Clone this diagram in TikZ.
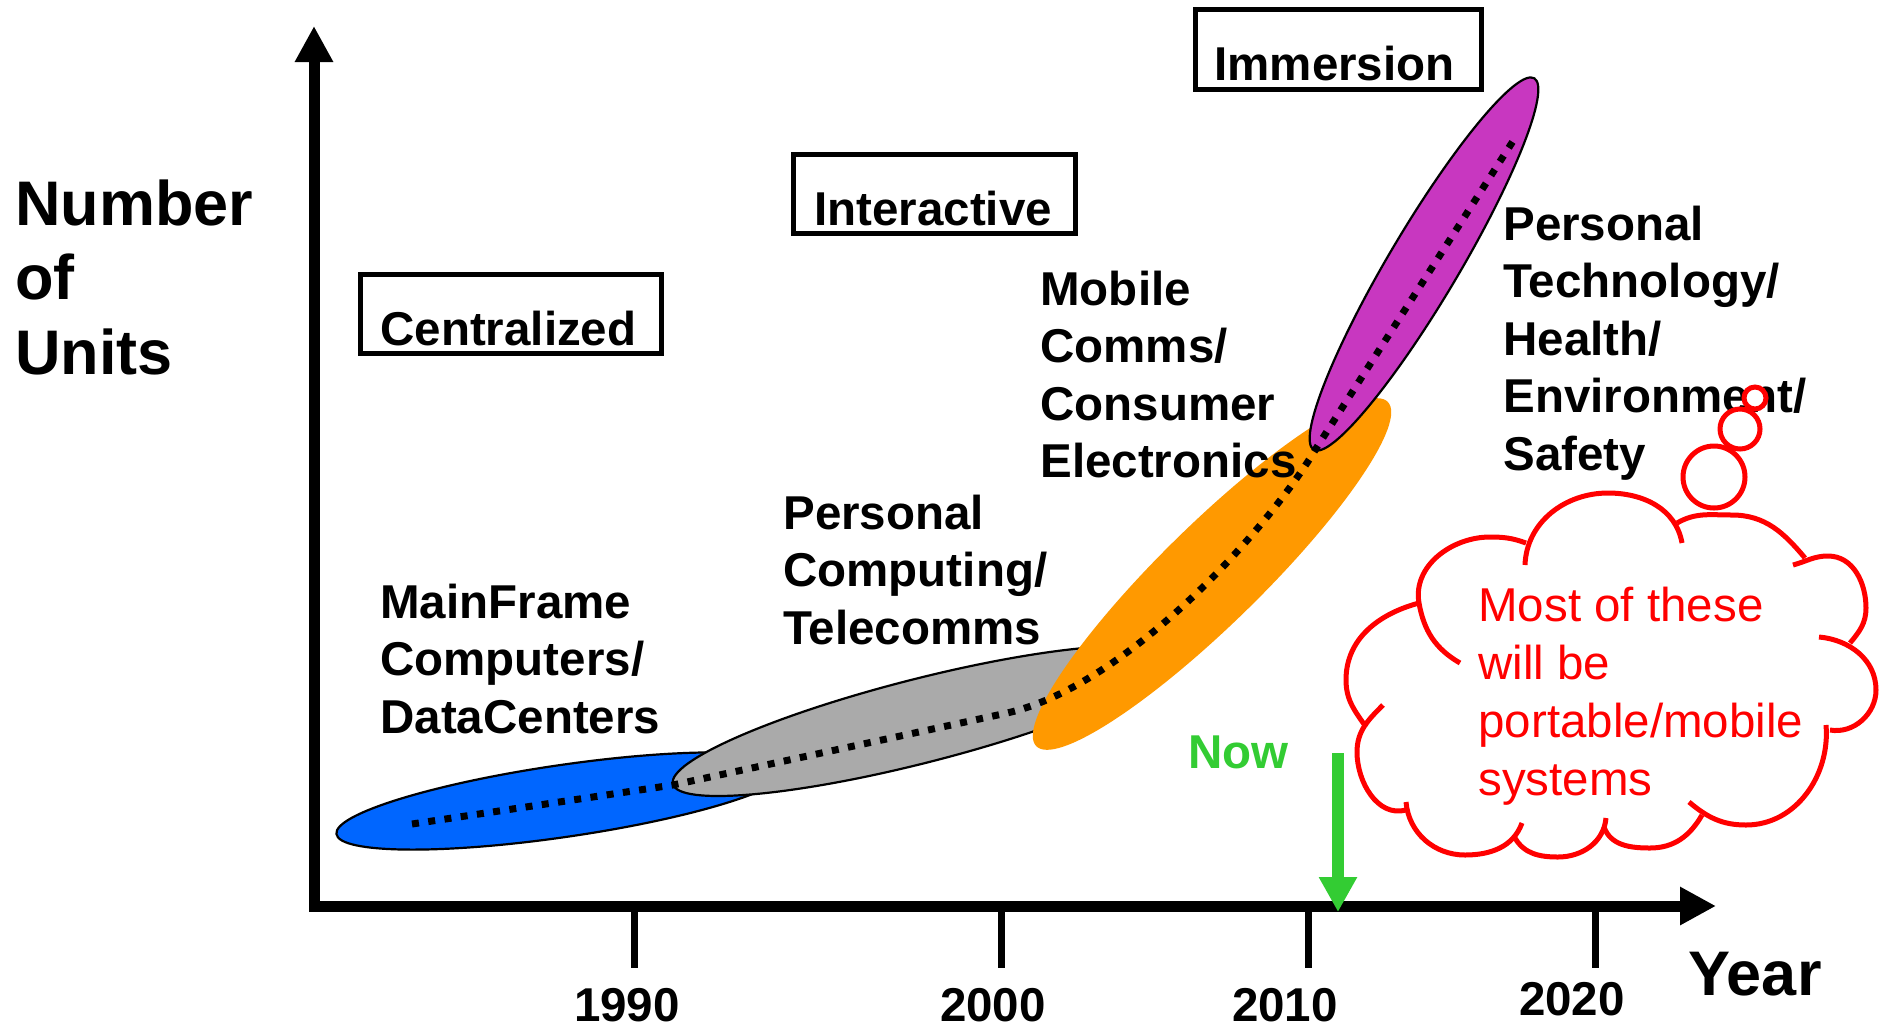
\documentclass[tikz,border=0pt]{standalone}
\usepackage{fontspec}
\setmainfont{Liberation Sans}
\usetikzlibrary{arrows.meta,shapes.geometric}
\definecolor{blueC}{HTML}{0066FF}
\definecolor{grayC}{HTML}{AAAAAA}
\definecolor{orangeC}{HTML}{FF9900}
\definecolor{purpleC}{HTML}{C837C0}
\definecolor{greenC}{HTML}{33CC33}
\definecolor{redC}{HTML}{FF0000}
\newcommand\mystack[1]{\vtop{\halign{##\hfil\cr#1\crcr}}}
\begin{document}
\begin{tikzpicture}[x=0.5pt,y=-0.5pt,
  txt/.style={inner sep=0pt, anchor=base west, font=\fontsize{23.75}{28.75}\selectfont\bfseries},
  bigtxt/.style={inner sep=0pt, anchor=base west, font=\fontsize{31.5}{37.25}\selectfont\bfseries},
  yr/.style={inner sep=0pt, anchor=base, font=\fontsize{23.75}{28.75}\selectfont\bfseries},
  tagbox/.style={draw, line width=2.5pt, inner sep=0pt, outer sep=0pt, anchor=north west},
  blob/.style={ellipse, inner sep=0pt, outer sep=0pt},
  blobline/.style={draw=black, line width=1.1pt},
  axisline/.style={line width=5.5pt, -{Triangle[length=18pt,width=18pt]}},
  tickline/.style={line width=3.5pt},
  trend/.style={line width=3.5pt, dash pattern=on 3.5pt off 4.7pt},
  cloudline/.style={draw=redC, line width=2.5pt},
  bubble/.style={circle, draw=redC, line width=2.5pt, fill=white, inner sep=0pt},
]
\useasboundingbox (0,0) rectangle (1881,1030);

% ---- ellipses
\node[blob, blobline, fill=blueC, minimum width=229pt, minimum height=36pt, rotate=8.3] (eblue) at (563,801) {};
\node[blob, blobline, fill=grayC, minimum width=255pt, minimum height=42pt, rotate=14.3] (egray) at (920,721) {};
\node[blob, fill=orangeC, minimum width=246pt, minimum height=50pt, rotate=44.4] (eorange) at (1212,574) {};
\node[blob, blobline, fill=purpleC, minimum width=216pt, minimum height=35pt, rotate=59.3] (epurple) at (1424,264) {};

% ---- trend line
\coordinate (t0) at (412,824);
\coordinate (t1) at (673,785);
\coordinate (t2) at (1007,713);
\coordinate (c1) at (1124,687);
\coordinate (c2) at (1266,533);
\coordinate (t3) at (1317,447);
\coordinate (t4) at (1515,138);
\draw[trend] (t0) -- (t1) -- (t2) .. controls (c1) and (c2) .. (t3) -- (t4);

% ---- axes
\coordinate (yb) at (314,911);
\coordinate (ytip) at (314,26);
\coordinate (xb) at (309,906);
\coordinate (xtip) at (1716,906);
\draw[axisline] (yb) -- (ytip);
\draw[axisline] (xb) -- (xtip);
\foreach \x in {634,1001,1308,1595} \draw[tickline] (\x,906) -- (\x,968);

\node[yr] (l1990) at (627,1021) {1990};
\node[yr] (l2000) at (993,1021) {2000};
\node[yr] (l2010) at (1285,1021) {2010};
\node[yr] (l2020) at (1572,1015) {2020};
\node[bigtxt] (year) at (1688,995) {Year};
\node[bigtxt] (ylabel) at (15,225) {\mystack{Number\cr of\cr Units}};

% ---- era boxes
\node[tagbox, minimum width=150.5pt, minimum height=39.5pt] (bcent) at (360.5,274.5) {};
\node[txt] (tcent) at (380,345) {Centralized};
\node[tagbox, minimum width=141pt, minimum height=39.5pt] (binter) at (793.5,154.5) {};
\node[txt] (tinter) at (814,225) {Interactive};
\node[tagbox, minimum width=143pt, minimum height=40pt] (bimm) at (1195.5,9.5) {};
\node[txt] (timm) at (1214,80) {Immersion};

% ---- labels
\node[txt] (lmain) at (380,618) {\mystack{MainFrame\cr Computers/\cr DataCenters}};
\node[txt] (lpc) at (783,529) {\mystack{Personal\cr Computing/\cr Telecomms}};
\node[txt] (lmob) at (1040,305) {\mystack{Mobile\cr Comms/\cr Consumer\cr Electronics}};
\node[txt] (lpt) at (1503,240) {\mystack{Personal\cr Technology/\cr Health/\cr Environment/\cr Safety}};

% ---- now
\node[txt, text=greenC] (now) at (1188,768) {Now};
\coordinate (nowtop) at (1338,753);
\coordinate (nowtip) at (1338,912);
\draw[line width=6pt, greenC, -{Triangle[length=17.5pt,width=18pt]}] (nowtop) -- (nowtip);

% ---- cloud
\draw[cloudline] (1460,663) to[out=150,in=-80] (1419,603) to[out=100,in=180] (1490,537) to[out=0,in=160] (1526,543);
\draw[cloudline] (1525,565) to[out=88,in=180] (1608,493) to[out=0,in=100] (1682,543);
\draw[cloudline] (1677,523) to[out=30,in=180] (1732,515) to[out=0,in=130] (1805,558);
\draw[cloudline] (1793,565) to[out=15,in=180] (1828,556) to[out=0,in=90] (1866,608) to[out=-90,in=50] (1850,643);
\draw[cloudline] (1819,637) to[out=-5,in=90] (1876,690) to[out=-90,in=-10] (1830,730);
\draw[cloudline] (1826,725) to[out=-85,in=0] (1746,825) to[out=180,in=-40] (1689,802);
\draw[cloudline] (1702,815) to[out=-120,in=0] (1650,848) to[out=180,in=-70] (1604,827);
\draw[cloudline] (1606,818) to[out=-95,in=0] (1558,857) to[out=180,in=-60] (1515,838);
\draw[cloudline] (1522,823) to[out=-110,in=0] (1465,855) to[out=180,in=-85] (1406,802);
\draw[cloudline] (1383,705) to[out=-135,in=90] (1357,752) to[out=-90,in=195] (1406,810);
\draw[cloudline] (1419,603) to[out=195,in=90] (1346,680) to[out=-90,in=125] (1366,727);

\node[txt, font=\fontsize{23.75}{29}\selectfont, text=redC] (ctext) at (1478,621) {\mystack{Most of these\cr will be\cr portable/mobile\cr systems}};

\node[bubble, minimum size=31pt] (bub3) at (1714,477) {};
\node[bubble, minimum size=20pt] (bub2) at (1740,429) {};
\node[bubble, minimum size=11pt] (bub1) at (1755,398) {};
\end{tikzpicture}
\end{document}
